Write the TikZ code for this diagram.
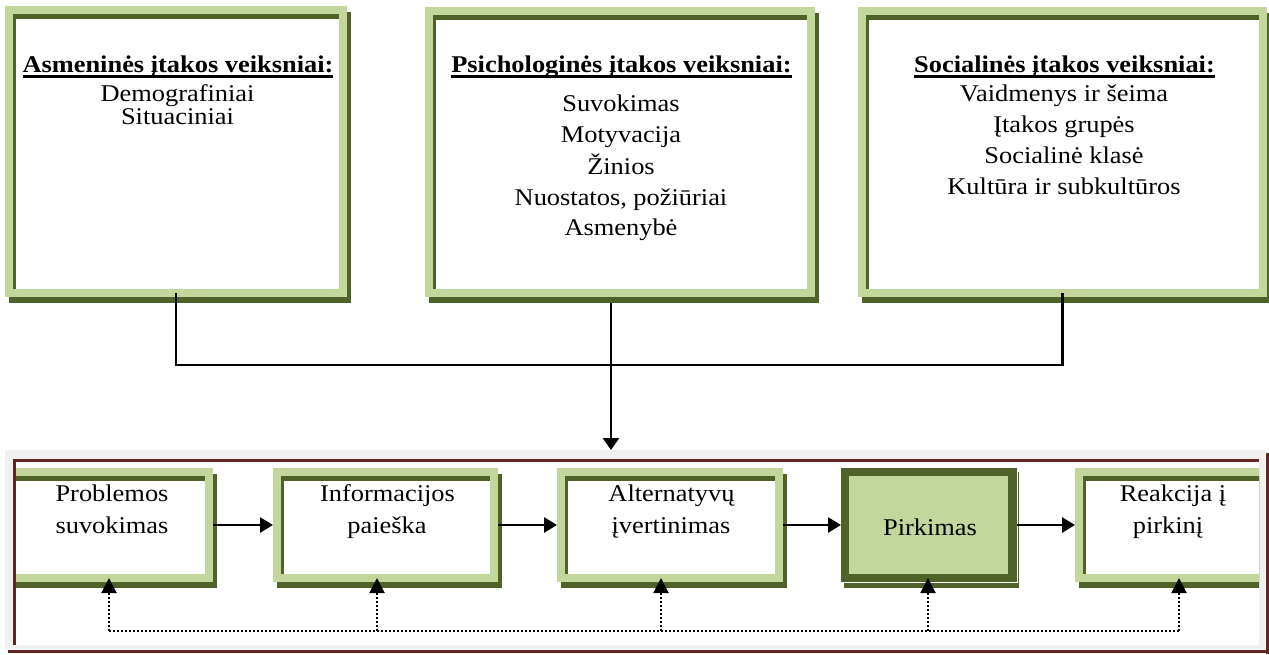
\documentclass[tikz,border=0pt]{standalone}
\usepackage{fontspec}
\setmainfont{Liberation Serif}[FakeStretch=1.1]
\usetikzlibrary{arrows.meta,calc}

\definecolor{ltgreen}{HTML}{C3D69B}
\definecolor{dkgreen}{HTML}{4F6228}
\definecolor{maroonline}{HTML}{632523}
\definecolor{panelgray}{HTML}{F0F0F0}

\tikzset{
  frame/.style={inner sep=0pt, outer sep=0pt},
  lbl/.style={inner sep=0pt, outer sep=0pt, anchor=base, font=\fontsize{24}{28}\selectfont},
  head/.style={lbl, font=\fontsize{24}{28}\selectfont\bfseries},
  conn/.style={line width=2.8pt},
  flow/.style={conn, -{Triangle[length=13pt,width=15pt]}},
  fb/.style={line width=2pt, dash pattern=on 2pt off 2pt},
  fbarrow/.style={fb, -{Triangle[length=15pt,width=15pt]}}
}

% light green band with dark shadow and a dark inner edge on top and left
\newcommand\greenframe[1]{%
  \fill[dkgreen] ($(#1.north west)+(4,6)$) rectangle ($(#1.south east)+(4,6)$);
  \fill[ltgreen] (#1.north west) rectangle (#1.south east);
  \fill[dkgreen] ($(#1.north west)+(8,8)$) rectangle ($(#1.south east)+(-8,-8)$);
  \fill[white] ($(#1.north west)+(11,13)$) rectangle ($(#1.south east)+(-8,-8)$);
}
% underline below a heading node
\newcommand\headrule[1]{%
  \draw[line width=2.8pt] ($(#1.base west)+(0,4)$) -- ($(#1.base east)+(0,4)$);
}

\begin{document}
\begin{tikzpicture}[x=1pt,y=-1pt]
\useasboundingbox (0,0) rectangle (1269,654);

% ---------- factor boxes ----------
\node[frame, minimum width=342pt, minimum height=291pt] (f1) at (176,151.5) {};
\node[frame, minimum width=390pt, minimum height=290pt] (f2) at (620,152) {};
\node[frame, minimum width=409pt, minimum height=290pt] (f3) at (1062.5,152) {};
\greenframe{f1}
\greenframe{f2}
\greenframe{f3}

\node[head] (h1) at (178,72.7) {Asmeninės įtakos veiksniai:};
\headrule{h1}
\node[lbl] (a1) at (177.5,101.7) {Demografiniai};
\node[lbl] (a2) at (177.5,124.5) {Situaciniai};

\node[head] (h2) at (621.5,72.7) {Psichologinės įtakos veiksniai:};
\headrule{h2}
\node[lbl] (p1) at (621,111.5) {Suvokimas};
\node[lbl] (p2) at (621,142.5) {Motyvacija};
\node[lbl] (p3) at (621,174) {Žinios};
\node[lbl] (p4) at (621,205) {Nuostatos, požiūriai};
\node[lbl] (p5) at (621,235) {Asmenybė};

\node[head] (h3) at (1064.5,72.7) {Socialinės įtakos veiksniai:};
\headrule{h3}
\node[lbl] (c1) at (1064,101.7) {Vaidmenys ir šeima};
\node[lbl] (c2) at (1064,132.3) {Įtakos grupės};
\node[lbl] (c3) at (1064,163) {Socialinė klasė};
\node[lbl] (c4) at (1064,194.3) {Kultūra ir subkultūros};

% ---------- decision process panel ----------
\node[frame, minimum width=1260pt, minimum height=199pt] (panel) at (635,549.5) {};
\fill[panelgray] (panel.north west) rectangle (panel.south east);
\fill[white] (16,462) rectangle (1259,645);
\draw[maroonline, line width=3pt] (13,460) -- (1259,460);
\draw[maroonline, line width=3pt] (14.5,458.5) -- (14.5,645);
\draw[maroonline, line width=3pt] (8,651.5) -- (1269,651.5);
\draw[maroonline, line width=3pt] (1267.5,453) -- (1267.5,654);

\node[frame, minimum width=225pt, minimum height=114pt] (s1) at (100.5,525) {};
\node[frame, minimum width=225pt, minimum height=114pt] (s2) at (385.5,525) {};
\node[frame, minimum width=226pt, minimum height=114pt] (s3) at (670,525) {};
\node[frame, minimum width=176pt, minimum height=114pt] (s4) at (929,525) {};
\node[frame, minimum width=225pt, minimum height=114pt] (s5) at (1187.5,525) {};

\begin{scope}
  \clip (16,462) rectangle (1259,645);
  \greenframe{s1}
  \greenframe{s2}
  \greenframe{s3}
  \greenframe{s5}
  % highlighted stage
  \fill[dkgreen] ($(s4.north west)+(3,4)$) rectangle ($(s4.south east)+(2,6)$);
  \fill[white] (s4.north west) rectangle ($(s4.south east)+(1,1)$);
  \fill[dkgreen] (s4.north west) rectangle (s4.south east);
  \fill[ltgreen] ($(s4.north west)+(8,8)$) rectangle ($(s4.south east)+(-9,-8)$);
\end{scope}

\node[lbl] (t1a) at (112,501.7) {Problemos};
\node[lbl] (t1b) at (112,533) {suvokimas};
\node[lbl] (t2a) at (387.5,501.7) {Informacijos};
\node[lbl] (t2b) at (387,533) {paieška};
\node[lbl] (t3a) at (671.5,501.7) {Alternatyvų};
\node[lbl] (t3b) at (671,533) {įvertinimas};
\node[lbl] (t4) at (930,535) {Pirkimas};
\node[lbl] (t5a) at (1173,501.7) {Reakcija į};
\node[lbl] (t5b) at (1168,533) {pirkinį};

% ---------- connectors ----------
\coordinate (hub) at (611,365);
\draw[conn] ($(f1.south)+(0,-4)$) -- (f1.south |- hub) -- (f3.south |- hub) -- ($(f3.south)+(0,-4)$);
\draw[conn, -{Triangle[length=12pt,width=16pt]}] ($(f2.south -| hub)+(0,6)$) -- (hub |- panel.north);

\draw[flow] (s1.east) -- (s2.west);
\draw[flow] (s2.east) -- (s3.west);
\draw[flow] (s3.east) -- (s4.west);
\draw[flow] (s4.east) -- (s5.west);

\coordinate (r1) at (109,631);
\coordinate (r2) at (377,631);
\coordinate (r3) at (661,631);
\coordinate (r4) at (928,631);
\coordinate (r5) at (1179,631);
\draw[fb] (r1) -- (r5);
\draw[fbarrow] (r1) -- ($(r1 |- s1.south)+(0,-4)$);
\draw[fbarrow] (r2) -- ($(r2 |- s2.south)+(0,-4)$);
\draw[fbarrow] (r3) -- ($(r3 |- s3.south)+(0,-4)$);
\draw[fbarrow] (r4) -- ($(r4 |- s4.south)+(0,-4)$);
\draw[fbarrow] (r5) -- ($(r5 |- s5.south)+(0,-4)$);
\end{tikzpicture}
\end{document}
